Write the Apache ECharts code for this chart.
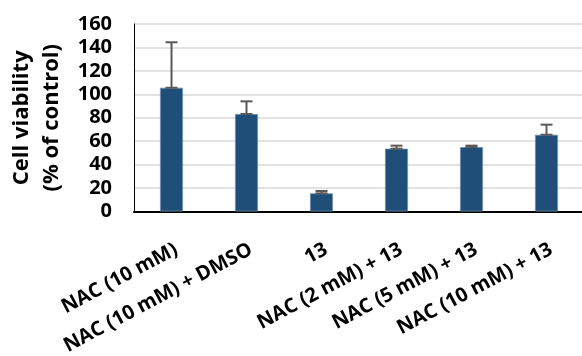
<!DOCTYPE html>
<html><head><meta charset="utf-8">
<script src="https://cdn.jsdelivr.net/npm/echarts@6/dist/echarts.min.js"></script>
<style>html,body{margin:0;padding:0;background:#fff}#c{width:582px;height:356px}</style>
</head><body><div id="c"></div>
<script>
var categories = ['NAC (10 mM)', 'NAC (10 mM) + DMSO', '13', 'NAC (2 mM) + 13', 'NAC (5 mM) + 13', 'NAC (10 mM) + 13'];
var viability = [105.6, 83.2, 15.5, 53.6, 55.0, 65.5];
var errors = [38.8, 10.8, 2.0, 2.6, 1.2, 8.6];
var yTicks = [0, 20, 40, 60, 80, 100, 120, 140, 160];
var FONT = 'Open Sans';

var chart = echarts.init(document.getElementById('c'));
chart.setOption({
  animation: false,
  grid: {left: 134, width: 450, top: 24, height: 187.5, containLabel: false, outerBoundsMode: 'none'},
  xAxis: {type: 'category', data: categories,
    axisLine: {lineStyle: {color: '#000', width: 2}}, axisTick: {show: false},
    axisLabel: {interval: 0, rotate: 28, margin: 28, verticalAlign: 'top',
      fontFamily: FONT, fontWeight: 'bold', fontSize: 20, color: '#000'}},
  yAxis: {type: 'value', min: yTicks[0], max: yTicks[yTicks.length - 1], interval: yTicks[1] - yTicks[0],
    axisLine: {show: true, lineStyle: {color: '#000', width: 1}}, axisTick: {show: false},
    splitLine: {lineStyle: {color: '#d9d9d9', width: 1.5}},
    axisLabel: {margin: 22, fontFamily: FONT, fontWeight: 'bold', fontSize: 20, color: '#000'},
    name: '{a|Cell viability}\n{a|(% of control)}', nameLocation: 'middle', nameRotate: 90, nameGap: 67,
    nameTextStyle: {rich: {a: {fontFamily: FONT, fontWeight: 'bold', fontSize: 22, color: '#000', lineHeight: 30}}}},
  series: [
    {type: 'bar', data: viability, barWidth: 23,
     itemStyle: {color: '#1f4e79', borderColor: '#6f8fb0', borderWidth: 0.8}, z: 2},
    {type: 'custom', z: 3,
     data: viability.map(function (v, i) { return [i, v, v + errors[i]]; }),
     renderItem: function (params, api) {
       var lo = api.coord([api.value(0), api.value(1)]);
       var hi = api.coord([api.value(0), api.value(2)]);
       var hw = 6;
       var st = {stroke: '#595959', lineWidth: 2};
       return {type: 'group', children: [
         {type: 'line', shape: {x1: lo[0], y1: lo[1], x2: hi[0], y2: hi[1]}, style: st},
         {type: 'line', shape: {x1: hi[0] - hw, y1: hi[1], x2: hi[0] + hw, y2: hi[1]}, style: st},
         {type: 'line', shape: {x1: lo[0] - hw, y1: lo[1], x2: lo[0] + hw, y2: lo[1]}, style: st}
       ]};
     }}
  ]
});
</script></body></html>
